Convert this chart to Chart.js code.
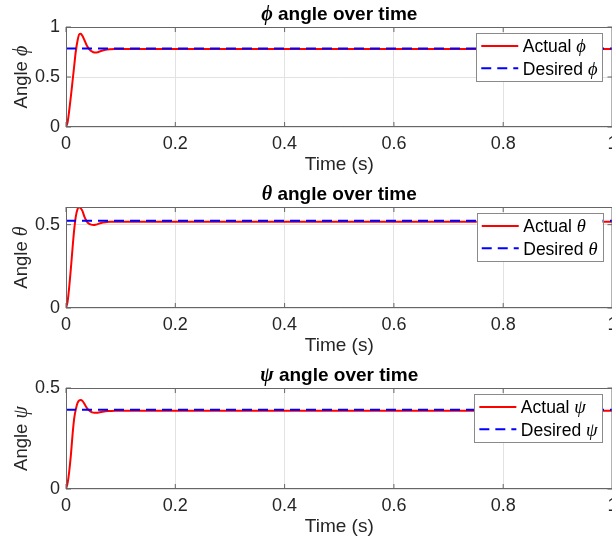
<!DOCTYPE html>
<html><head><meta charset="utf-8">
<script src="https://cdn.jsdelivr.net/npm/chart.js@4.4.1/dist/chart.umd.min.js"></script>
<style>
html,body{margin:0;padding:0;background:#fff;overflow:hidden;width:612px;height:542px;position:relative;}
.wrap{position:absolute;left:0;width:660px;}
canvas{display:block;}
</style></head><body>
<div class="wrap" style="top:0px;height:180px"><canvas id="c1" width="660" height="180"></canvas></div>
<div class="wrap" style="top:180px;height:181px"><canvas id="c2" width="660" height="181"></canvas></div>
<div class="wrap" style="top:361px;height:181px"><canvas id="c3" width="660" height="181"></canvas></div>
<script>
// ---- data ----
const timeS = [0, 0.003, 0.006, 0.009, 0.012, 0.015, 0.018, 0.021, 0.024, 0.027, 0.030, 0.034, 0.038, 0.042, 0.046, 0.050, 0.054, 0.058, 0.064, 0.072, 0.080, 0.090, 0.100, 0.150, 0.200, 0.300, 0.400, 0.500, 0.600, 0.700, 0.800, 0.900, 1.000];
const phiActual   = [0, 0.05, 0.17, 0.31, 0.46, 0.61, 0.76, 0.86, 0.925, 0.932, 0.912, 0.865, 0.815, 0.782, 0.760, 0.748, 0.745, 0.748, 0.760, 0.772, 0.777, 0.779, 0.779, 0.779, 0.779, 0.779, 0.779, 0.779, 0.779, 0.779, 0.779, 0.779, 0.779];
const thetaActual = [0, 0.04, 0.13, 0.24, 0.36, 0.47, 0.55, 0.592, 0.604, 0.598, 0.583, 0.545, 0.520, 0.506, 0.500, 0.498, 0.499, 0.503, 0.510, 0.515, 0.517, 0.518, 0.518, 0.518, 0.518, 0.518, 0.518, 0.518, 0.518, 0.518, 0.518, 0.518, 0.518];
const psiActual   = [0, 0.03, 0.09, 0.17, 0.27, 0.35, 0.395, 0.425, 0.438, 0.441, 0.436, 0.420, 0.402, 0.390, 0.382, 0.378, 0.377, 0.378, 0.381, 0.385, 0.386, 0.387, 0.387, 0.387, 0.387, 0.387, 0.387, 0.387, 0.387, 0.387, 0.387, 0.387, 0.387];
const desiredTime  = [0, 1];
const phiDesired   = [0.7854, 0.7854];
const thetaDesired = [0.5236, 0.5236];
const psiDesired   = [0.3927, 0.3927];
const xTicks     = [0, 0.2, 0.4, 0.6, 0.8, 1];
const phiTicks   = [0, 0.5, 1];
const thetaTicks = [0, 0.5];
const psiTicks   = [0, 0.5];
const yMaxes     = [1, 0.606, 0.5];
const symbols    = ['ϕ', 'θ', 'ψ'];
const titleText  = ' angle over time';
const yLabelText = 'Angle ';
const xLabelText = 'Time (s)';

const SANS = '"Liberation Sans", Arial, Helvetica, sans-serif';
const SERIF = '"Liberation Serif", "DejaVu Serif", serif';
const TXT = '#262626';
const AXC = '#666666';

function zip(xs, ys){ return xs.map((x,i)=>({x:x, y:ys[i]})); }

function drawRuns(ctx, runs, x, y, align){
  let total = 0;
  runs.forEach(r=>{ ctx.font = r.font; r.w = ctx.measureText(r.text).width; total += r.w; });
  let cx = align === 'center' ? x - total/2 : (align === 'right' ? x - total : x);
  ctx.textAlign = 'left';
  ctx.textBaseline = 'alphabetic';
  runs.forEach(r=>{ ctx.font = r.font; ctx.fillText(r.text, cx, y); cx += r.w; });
  return total;
}

const framePlugin = {
  id:'frame',
  afterDatasetsDraw(chart){
    const ctx = chart.ctx, a = chart.chartArea;
    const xs = chart.scales.x, ys = chart.scales.y;
    ctx.save();
    ctx.strokeStyle = AXC; ctx.lineWidth = 1;
    ctx.strokeRect(a.left + 0.5, a.top + 0.5, a.right - a.left - 1, a.bottom - a.top - 1);
    ctx.beginPath();
    xs.ticks.forEach(t=>{ const px = xs.getPixelForValue(t.value);
      ctx.moveTo(px, a.bottom); ctx.lineTo(px, a.bottom - 5);
      ctx.moveTo(px, a.top); ctx.lineTo(px, a.top + 5); });
    ys.ticks.forEach(t=>{ const py = ys.getPixelForValue(t.value);
      ctx.moveTo(a.left, py); ctx.lineTo(a.left + 5, py);
      ctx.moveTo(a.right, py); ctx.lineTo(a.right - 5, py); });
    ctx.stroke();
    ctx.restore();
  }
};

const textPlugin = {
  id:'mixedText',
  afterDraw(chart, args, o){
    const ctx = chart.ctx, a = chart.chartArea;
    ctx.save();
    ctx.fillStyle = '#000';
    drawRuns(ctx, [{text:o.sym, font:'italic bold 20px ' + SERIF}, {text:titleText, font:'bold 19px ' + SANS}], (a.left + a.right)/2, 19.5, 'center');
    ctx.fillStyle = TXT;
    ctx.translate(27, (a.top + a.bottom)/2);
    ctx.rotate(-Math.PI/2);
    drawRuns(ctx, [{text:yLabelText, font:'18.5px ' + SANS}, {text:o.sym, font:'italic 20px ' + SERIF}], 0, 0, 'center');
    ctx.restore();
  }
};

const legendPlugin = {
  id:'boxLegend',
  afterDraw(chart){
    const ctx = chart.ctx, a = chart.chartArea, ds = chart.data.datasets;
    const runsList = ds.map(d=>{ const i = d.label.lastIndexOf(' ');
      return [{text:d.label.slice(0, i+1), font:'17.5px ' + SANS}, {text:d.label.slice(i+1), font:'italic 18.5px ' + SERIF}]; });
    ctx.save();
    let tw = 0;
    runsList.forEach(runs=>{ let w = 0; runs.forEach(r=>{ ctx.font = r.font; w += ctx.measureText(r.text).width; }); tw = Math.max(tw, w); });
    const pad = 5, lineLen = 37, gap = 4.5, h = 48;
    const w = pad + lineLen + gap + tw + 5;
    const right = a.right - 10, x0 = right - w, y0 = a.top + 6;
    ctx.fillStyle = '#fff';
    ctx.fillRect(x0, y0, w, h);
    ctx.strokeStyle = '#8a8a8a'; ctx.lineWidth = 1;
    ctx.strokeRect(Math.round(x0) + 0.5, Math.round(y0) + 0.5, Math.round(w), h);
    ds.forEach((d, i)=>{
      const y = y0 + 13 + i*22.3;
      ctx.save();
      ctx.strokeStyle = d.borderColor; ctx.lineWidth = d.borderWidth;
      ctx.setLineDash(d.borderDash || []);
      ctx.beginPath(); ctx.moveTo(x0 + pad, y); ctx.lineTo(x0 + pad + lineLen, y); ctx.stroke();
      ctx.restore();
      ctx.fillStyle = '#000';
      drawRuns(ctx, runsList[i], x0 + pad + lineLen + gap, y + 6.3, 'left');
    });
    ctx.restore();
  }
};

function makeChart(id, idx, actual, desired, yTicks){
  const sym = symbols[idx];
  return new Chart(document.getElementById(id), {
    type:'line',
    data:{ datasets:[
      {label:'Actual ' + sym, data:zip(timeS, actual), borderColor:'#ff0000', borderWidth:2, pointRadius:0, fill:false, cubicInterpolationMode:'monotone', order:1},
      {label:'Desired ' + sym, data:zip(desiredTime, desired), borderColor:'#0000ff', borderWidth:2, borderDash:[10,6], pointRadius:0, fill:false, order:0}
    ]},
    options:{
      responsive:false, animation:false, events:[],
      layout:{padding:{top:27, left:0, right:47.5, bottom:0}},
      plugins:{legend:{display:false}, tooltip:{enabled:false}, title:{display:false}, mixedText:{sym:sym}},
      scales:{
        x:{type:'linear', min:0, max:1,
          afterBuildTicks:s=>{ s.ticks = xTicks.map(v=>({value:v})); },
          afterFit:s=>{ s.height = 53; },
          grid:{color:'#e2e2e2', drawTicks:false}, border:{display:false},
          ticks:{color:TXT, font:{family:SANS, size:18}, padding:6, maxRotation:0, autoSkip:false, callback:v=>String(v)},
          title:{display:true, text:xLabelText, color:TXT, font:{family:SANS, size:19}, padding:{top:0, bottom:4}}
        },
        y:{type:'linear', min:0, max:yMaxes[idx],
          afterBuildTicks:s=>{ s.ticks = yTicks.map(v=>({value:v})); },
          afterFit:s=>{ s.width = 66; },
          grid:{color:'#e2e2e2', drawTicks:false}, border:{display:false},
          ticks:{color:TXT, font:{family:SANS, size:18}, padding:6, autoSkip:false, callback:v=>String(v)}
        }
      }
    },
    plugins:[framePlugin, textPlugin, legendPlugin]
  });
}

makeChart('c1', 0, phiActual, phiDesired, phiTicks);
makeChart('c2', 1, thetaActual, thetaDesired, thetaTicks);
makeChart('c3', 2, psiActual, psiDesired, psiTicks);
</script>
</body></html>
